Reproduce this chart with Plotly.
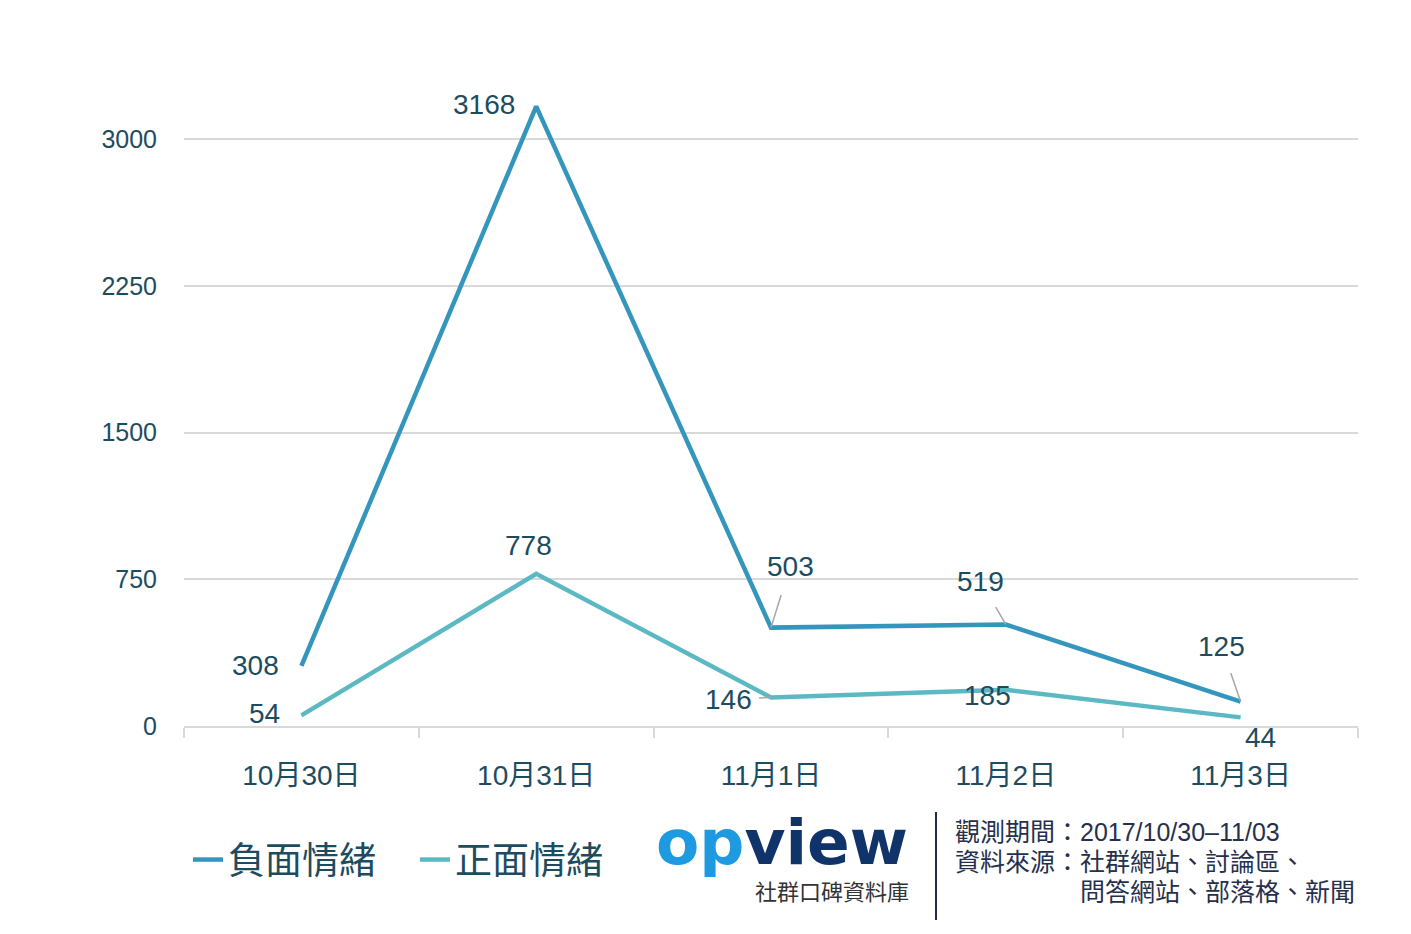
import plotly.graph_objects as go

categories = ["10月30日", "10月31日", "11月1日", "11月2日", "11月3日"]
negative = [308, 3168, 503, 519, 125]
positive = [54, 778, 146, 185, 44]
y_ticks = [0, 750, 1500, 2250, 3000]
series_names = ["負面情緒", "正面情緒"]

NEG_COLOR = "#3596bd"
POS_COLOR = "#5cb9c3"
TEXT_COLOR = "#1d4c60"
GRID = "#d9d9d9"
FONT = "Liberation Sans, Noto Sans CJK TC, sans-serif"

fig = go.Figure()
fig.add_trace(go.Scatter(x=categories, y=negative, mode="lines", name=series_names[0],
                         line=dict(color=NEG_COLOR, width=4.5)))
fig.add_trace(go.Scatter(x=categories, y=positive, mode="lines", name=series_names[1],
                         line=dict(color=POS_COLOR, width=4.5)))

# label placements: (dx, dy, leader, startstandoff)
neg_label_pos = [(-46, 0, False, 0), (-52, -2, False, 0), (19, -61, True, 12), (-25, -43, True, 10), (-19, -55, True, 10)]
pos_label_pos = [(-37, -2, False, 0), (-8, -28, False, 0), (-43, 2, True, 6), (-18, 6, False, 0), (20, 20, False, 0)]

for series, placements in ((negative, neg_label_pos), (positive, pos_label_pos)):
    for cat, val, (dx, dy, leader, sso) in zip(categories, series, placements):
        if leader:
            fig.add_annotation(x=cat, y=val, xref="x", yref="y", text=str(val),
                               showarrow=True, arrowhead=0, arrowwidth=1.5, arrowcolor="#a6a6a6",
                               ax=dx, ay=dy, startstandoff=sso,
                               font=dict(size=28, color=TEXT_COLOR, family=FONT))
        else:
            fig.add_annotation(x=cat, y=val, xref="x", yref="y", text=str(val),
                               showarrow=False, xshift=dx, yshift=-dy,
                               xanchor="center", yanchor="middle",
                               font=dict(size=28, color=TEXT_COLOR, family=FONT))

def px_x(px):
    return (px - 184) / 1174

def px_y(py):
    return (726 - py) / 665

# logo
fig.add_annotation(xref="paper", yref="paper", x=px_x(782), y=px_y(842),
                   xanchor="center", yanchor="middle",
                   text=("<b><span style='color:#1e9be0'>op</span>"
                         "<span style='color:#10346a'>view</span></b>"),
                   showarrow=False, font=dict(size=63, family="DejaVu Sans"))
fig.add_annotation(xref="paper", yref="paper", x=px_x(832), y=px_y(890),
                   xanchor="center", yanchor="middle",
                   text="社群口碑資料庫", showarrow=False,
                   font=dict(size=22, color="#333333", family="Noto Sans CJK TC"))
fig.add_shape(type="line", xref="paper", yref="paper", x0=px_x(936), x1=px_x(936),
              y0=px_y(812), y1=px_y(920), line=dict(color="#1f2d4d", width=2))

src_color = "#26304d"
fig.add_annotation(xref="paper", yref="paper", x=px_x(953), y=px_y(832), xanchor="left", yanchor="middle",
                   text="觀測期間：2017/10/30–11/03", showarrow=False,
                   font=dict(size=25, color=src_color, family=FONT))
fig.add_annotation(xref="paper", yref="paper", x=px_x(953), y=px_y(862), xanchor="left", yanchor="middle",
                   text="資料來源：社群網站、討論區、", showarrow=False,
                   font=dict(size=25, color=src_color, family=FONT))
fig.add_annotation(xref="paper", yref="paper", x=px_x(1078), y=px_y(892), xanchor="left", yanchor="middle",
                   text="問答網站、部落格、新聞", showarrow=False,
                   font=dict(size=25, color=src_color, family=FONT))

fig.update_layout(
    width=1411, height=934,
    margin=dict(l=176, r=61, t=53, b=216),
    paper_bgcolor="white", plot_bgcolor="white",
    font=dict(family=FONT, color=TEXT_COLOR),
    showlegend=True,
    legend=dict(orientation="h", x=4 / 1174, xanchor="left", y=px_y(860), yanchor="middle",
                font=dict(size=37, color=TEXT_COLOR, family="Noto Sans CJK TC"),
                entrywidth=182, entrywidthmode="pixels",
                itemwidth=30, tracegroupgap=0, bgcolor="rgba(0,0,0,0)"),
    xaxis=dict(type="category", range=[-0.5, 4.5], showgrid=False,
               showline=True, linecolor=GRID, linewidth=1.5,
               ticks="outside", tickson="boundaries", ticklen=10, tickcolor=GRID, tickwidth=1.5,
               tickfont=dict(size=28, color=TEXT_COLOR), ticklabelstandoff=24),
    yaxis=dict(range=[0, 3400], tickvals=y_ticks, showgrid=True, gridcolor=GRID, gridwidth=1.5,
               zeroline=False, showline=False, ticks="",
               tickfont=dict(size=25, color=TEXT_COLOR), ticklabelstandoff=26),
)

fig.write_html("out.html")
